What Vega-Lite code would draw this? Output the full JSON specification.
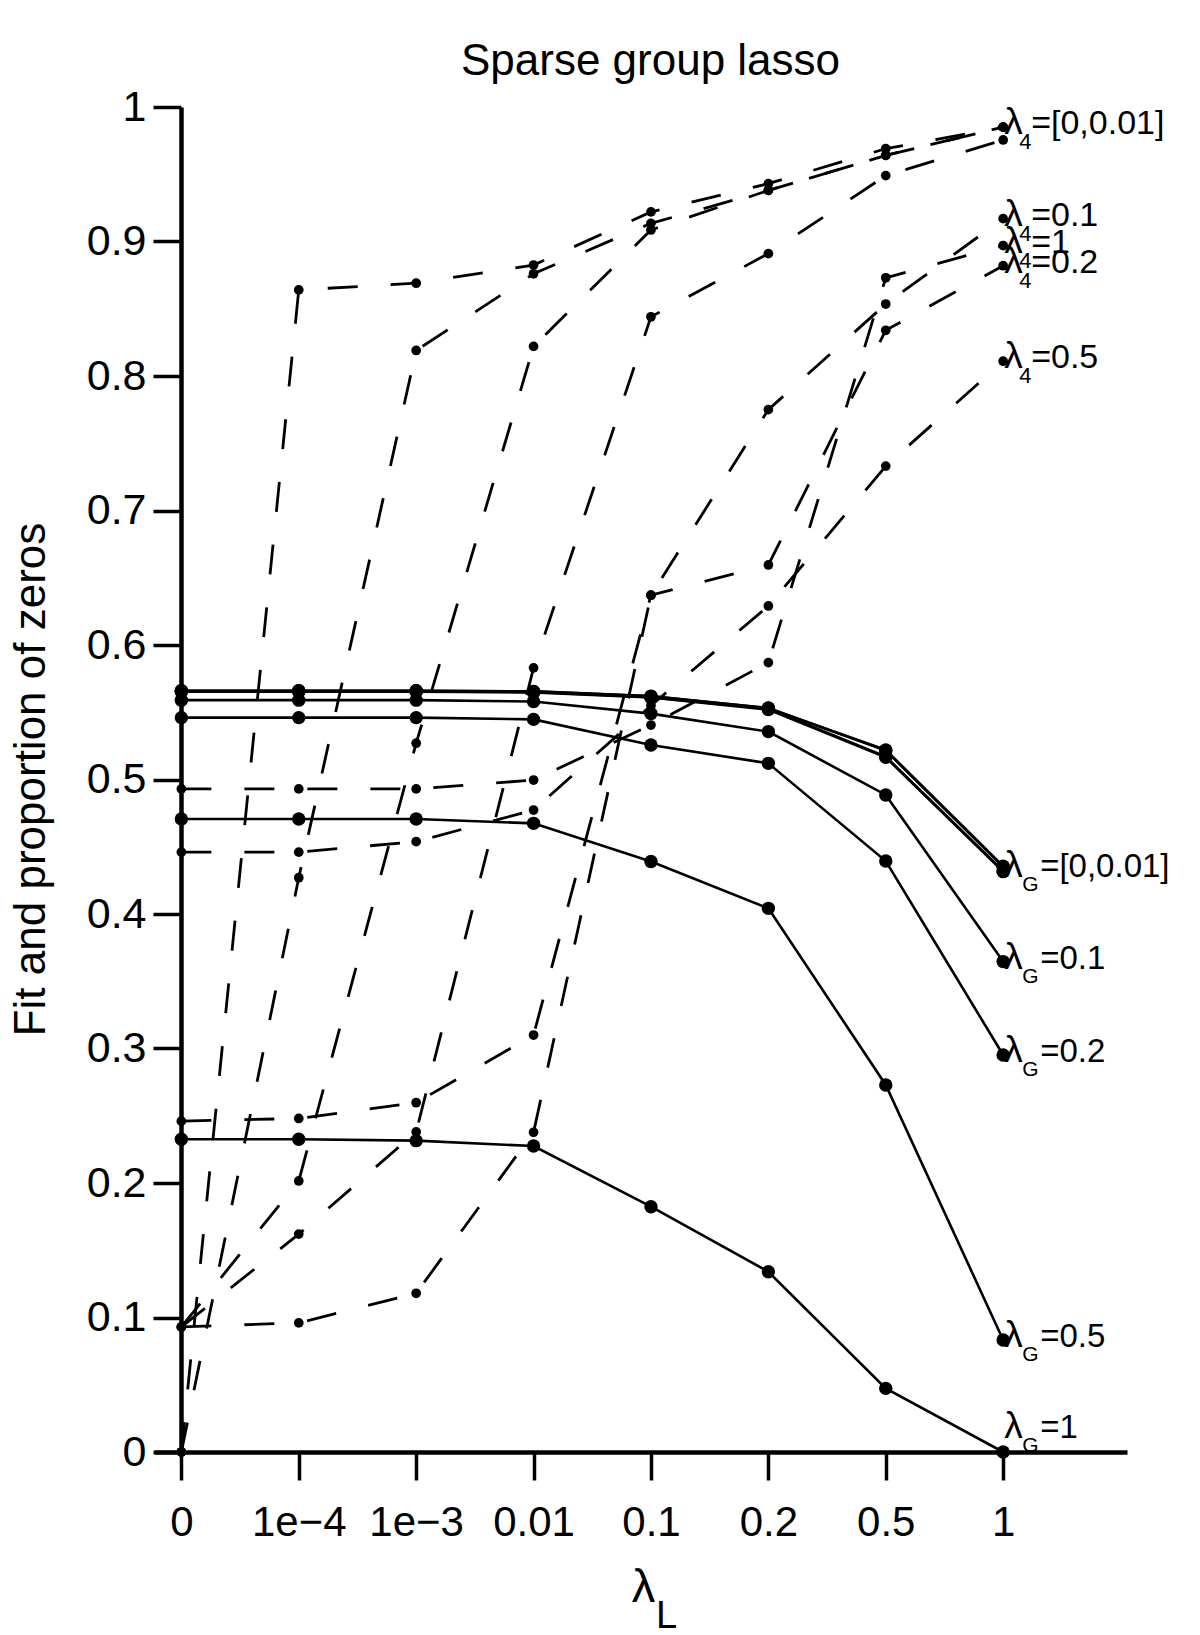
{
  "$schema": "https://vega.github.io/schema/vega-lite/v6.json",
  "width": 973,
  "height": 1345,
  "autosize": {"type": "none"},
  "padding": {"left": 154, "top": 107, "right": 73, "bottom": 183},
  "background": "white",
  "title": {"text": "Sparse group lasso", "fontSize": 44, "fontWeight": "normal", "font": "Liberation Sans", "color": "black", "anchor": "middle", "frame": "group", "dx": 10, "dy": 47, "baseline": "alphabetic", "offset": 14},
  "config": {
    "view": {"stroke": null},
    "font": "Liberation Sans",
    "text": {"font": "Liberation Sans", "color": "black"}
  },
  "datasets": {
    "fit": [
      {"series": "G=0", "lamL": "0", "v": 0.566}, {"series": "G=0", "lamL": "1e-4", "v": 0.566}, {"series": "G=0", "lamL": "1e-3", "v": 0.566}, {"series": "G=0", "lamL": "0.01", "v": 0.5655}, {"series": "G=0", "lamL": "0.1", "v": 0.562}, {"series": "G=0", "lamL": "0.2", "v": 0.553}, {"series": "G=0", "lamL": "0.5", "v": 0.522}, {"series": "G=0", "lamL": "1", "v": 0.4355},
      {"series": "G=1e-4", "lamL": "0", "v": 0.566}, {"series": "G=1e-4", "lamL": "1e-4", "v": 0.566}, {"series": "G=1e-4", "lamL": "1e-3", "v": 0.566}, {"series": "G=1e-4", "lamL": "0.01", "v": 0.5655}, {"series": "G=1e-4", "lamL": "0.1", "v": 0.5618}, {"series": "G=1e-4", "lamL": "0.2", "v": 0.5532}, {"series": "G=1e-4", "lamL": "0.5", "v": 0.5215}, {"series": "G=1e-4", "lamL": "1", "v": 0.435},
      {"series": "G=1e-3", "lamL": "0", "v": 0.5655}, {"series": "G=1e-3", "lamL": "1e-4", "v": 0.5655}, {"series": "G=1e-3", "lamL": "1e-3", "v": 0.5655}, {"series": "G=1e-3", "lamL": "0.01", "v": 0.565}, {"series": "G=1e-3", "lamL": "0.1", "v": 0.5612}, {"series": "G=1e-3", "lamL": "0.2", "v": 0.5525}, {"series": "G=1e-3", "lamL": "0.5", "v": 0.517}, {"series": "G=1e-3", "lamL": "1", "v": 0.432},
      {"series": "G=0.01", "lamL": "0", "v": 0.5652}, {"series": "G=0.01", "lamL": "1e-4", "v": 0.5652}, {"series": "G=0.01", "lamL": "1e-3", "v": 0.5652}, {"series": "G=0.01", "lamL": "0.01", "v": 0.5648}, {"series": "G=0.01", "lamL": "0.1", "v": 0.561}, {"series": "G=0.01", "lamL": "0.2", "v": 0.552}, {"series": "G=0.01", "lamL": "0.5", "v": 0.5165}, {"series": "G=0.01", "lamL": "1", "v": 0.4315},
      {"series": "G=0.1", "lamL": "0", "v": 0.559}, {"series": "G=0.1", "lamL": "1e-4", "v": 0.559}, {"series": "G=0.1", "lamL": "1e-3", "v": 0.559}, {"series": "G=0.1", "lamL": "0.01", "v": 0.558}, {"series": "G=0.1", "lamL": "0.1", "v": 0.549}, {"series": "G=0.1", "lamL": "0.2", "v": 0.5356}, {"series": "G=0.1", "lamL": "0.5", "v": 0.4885}, {"series": "G=0.1", "lamL": "1", "v": 0.3646},
      {"series": "G=0.2", "lamL": "0", "v": 0.546}, {"series": "G=0.2", "lamL": "1e-4", "v": 0.546}, {"series": "G=0.2", "lamL": "1e-3", "v": 0.546}, {"series": "G=0.2", "lamL": "0.01", "v": 0.5447}, {"series": "G=0.2", "lamL": "0.1", "v": 0.5257}, {"series": "G=0.2", "lamL": "0.2", "v": 0.512}, {"series": "G=0.2", "lamL": "0.5", "v": 0.4394}, {"series": "G=0.2", "lamL": "1", "v": 0.2952},
      {"series": "G=0.5", "lamL": "0", "v": 0.4706}, {"series": "G=0.5", "lamL": "1e-4", "v": 0.4706}, {"series": "G=0.5", "lamL": "1e-3", "v": 0.4706}, {"series": "G=0.5", "lamL": "0.01", "v": 0.4674}, {"series": "G=0.5", "lamL": "0.1", "v": 0.439}, {"series": "G=0.5", "lamL": "0.2", "v": 0.4042}, {"series": "G=0.5", "lamL": "0.5", "v": 0.2729}, {"series": "G=0.5", "lamL": "1", "v": 0.0833},
      {"series": "G=1", "lamL": "0", "v": 0.2325}, {"series": "G=1", "lamL": "1e-4", "v": 0.2325}, {"series": "G=1", "lamL": "1e-3", "v": 0.2315}, {"series": "G=1", "lamL": "0.01", "v": 0.2275}, {"series": "G=1", "lamL": "0.1", "v": 0.1824}, {"series": "G=1", "lamL": "0.2", "v": 0.134}, {"series": "G=1", "lamL": "0.5", "v": 0.0473}, {"series": "G=1", "lamL": "1", "v": 0}
    ],
    "zeros": [
      {"series": "4=0", "lamL": "0", "v": 0}, {"series": "4=0", "lamL": "1e-4", "v": 0.864}, {"series": "4=0", "lamL": "1e-3", "v": 0.869}, {"series": "4=0", "lamL": "0.01", "v": 0.8825}, {"series": "4=0", "lamL": "0.1", "v": 0.922}, {"series": "4=0", "lamL": "0.2", "v": 0.943}, {"series": "4=0", "lamL": "0.5", "v": 0.969}, {"series": "4=0", "lamL": "1", "v": 0.985},
      {"series": "4=1e-4", "lamL": "0", "v": 0}, {"series": "4=1e-4", "lamL": "1e-4", "v": 0.427}, {"series": "4=1e-4", "lamL": "1e-3", "v": 0.819}, {"series": "4=1e-4", "lamL": "0.01", "v": 0.876}, {"series": "4=1e-4", "lamL": "0.1", "v": 0.9135}, {"series": "4=1e-4", "lamL": "0.2", "v": 0.938}, {"series": "4=1e-4", "lamL": "0.5", "v": 0.964}, {"series": "4=1e-4", "lamL": "1", "v": 0.985},
      {"series": "4=1e-3", "lamL": "0", "v": 0.093}, {"series": "4=1e-3", "lamL": "1e-4", "v": 0.2015}, {"series": "4=1e-3", "lamL": "1e-3", "v": 0.527}, {"series": "4=1e-3", "lamL": "0.01", "v": 0.822}, {"series": "4=1e-3", "lamL": "0.1", "v": 0.9086}, {"series": "4=1e-3", "lamL": "0.2", "v": 0.938}, {"series": "4=1e-3", "lamL": "0.5", "v": 0.964}, {"series": "4=1e-3", "lamL": "1", "v": 0.985},
      {"series": "4=0.01", "lamL": "0", "v": 0.093}, {"series": "4=0.01", "lamL": "1e-4", "v": 0.162}, {"series": "4=0.01", "lamL": "1e-3", "v": 0.238}, {"series": "4=0.01", "lamL": "0.01", "v": 0.583}, {"series": "4=0.01", "lamL": "0.1", "v": 0.844}, {"series": "4=0.01", "lamL": "0.2", "v": 0.891}, {"series": "4=0.01", "lamL": "0.5", "v": 0.949}, {"series": "4=0.01", "lamL": "1", "v": 0.9755},
      {"series": "4=0.1", "lamL": "0", "v": 0.093}, {"series": "4=0.1", "lamL": "1e-4", "v": 0.096}, {"series": "4=0.1", "lamL": "1e-3", "v": 0.118}, {"series": "4=0.1", "lamL": "0.01", "v": 0.2377}, {"series": "4=0.1", "lamL": "0.1", "v": 0.637}, {"series": "4=0.1", "lamL": "0.2", "v": 0.775}, {"series": "4=0.1", "lamL": "0.5", "v": 0.8535}, {"series": "4=0.1", "lamL": "1", "v": 0.917},
      {"series": "4=0.2", "lamL": "0", "v": 0.246}, {"series": "4=0.2", "lamL": "1e-4", "v": 0.248}, {"series": "4=0.2", "lamL": "1e-3", "v": 0.2597}, {"series": "4=0.2", "lamL": "0.01", "v": 0.31}, {"series": "4=0.2", "lamL": "0.1", "v": 0.637}, {"series": "4=0.2", "lamL": "0.2", "v": 0.6595}, {"series": "4=0.2", "lamL": "0.5", "v": 0.834}, {"series": "4=0.2", "lamL": "1", "v": 0.882},
      {"series": "4=0.5", "lamL": "0", "v": 0.446}, {"series": "4=0.5", "lamL": "1e-4", "v": 0.446}, {"series": "4=0.5", "lamL": "1e-3", "v": 0.4538}, {"series": "4=0.5", "lamL": "0.01", "v": 0.4773}, {"series": "4=0.5", "lamL": "0.1", "v": 0.555}, {"series": "4=0.5", "lamL": "0.2", "v": 0.629}, {"series": "4=0.5", "lamL": "0.5", "v": 0.733}, {"series": "4=0.5", "lamL": "1", "v": 0.811},
      {"series": "4=1", "lamL": "0", "v": 0.493}, {"series": "4=1", "lamL": "1e-4", "v": 0.493}, {"series": "4=1", "lamL": "1e-3", "v": 0.493}, {"series": "4=1", "lamL": "0.01", "v": 0.4996}, {"series": "4=1", "lamL": "0.1", "v": 0.5405}, {"series": "4=1", "lamL": "0.2", "v": 0.5869}, {"series": "4=1", "lamL": "0.5", "v": 0.873}, {"series": "4=1", "lamL": "1", "v": 0.897}
    ],
    "labels": [
      {"kind": "zeros", "lamL": "1", "v": 0.985, "sub": "4", "rest": "=[0,0.01]"},
      {"kind": "zeros", "lamL": "1", "v": 0.917, "sub": "4", "rest": "=0.1"},
      {"kind": "zeros", "lamL": "1", "v": 0.897, "sub": "4", "rest": "=1"},
      {"kind": "zeros", "lamL": "1", "v": 0.882, "sub": "4", "rest": "=0.2"},
      {"kind": "zeros", "lamL": "1", "v": 0.811, "sub": "4", "rest": "=0.5"},
      {"kind": "fit", "lamL": "1", "v": 0.433, "sub": "G", "rest": "=[0,0.01]"},
      {"kind": "fit", "lamL": "1", "v": 0.3646, "sub": "G", "rest": "=0.1"},
      {"kind": "fit", "lamL": "1", "v": 0.2952, "sub": "G", "rest": "=0.2"},
      {"kind": "fit", "lamL": "1", "v": 0.0833, "sub": "G", "rest": "=0.5"},
      {"kind": "fit", "lamL": "1", "v": 0, "sub": "G", "rest": "=1"}
    ],
    "axissub": [
      {"lamL": "0.1", "v": 0, "sub": "L"}
    ]
  },
  "encoding": {
    "x": {
      "field": "lamL", "type": "ordinal",
      "scale": {"type": "point", "domain": ["0", "1e-4", "1e-3", "0.01", "0.1", "0.2", "0.5", "1"], "padding": 0.644, "align": 0.181},
      "axis": {
        "title": "λ", "titleFont": "Liberation Sans", "titleFontSize": 47, "titleFontWeight": "normal", "titleColor": "black",
        "titleX": 489, "titleY": 149, "titleBaseline": "alphabetic", "titleAlign": "center", "titleAnchor": null,
        "labelAngle": 0, "labelFont": "Liberation Sans", "labelFontSize": 42, "labelColor": "black", "labelPadding": 22, "labelOverlap": false,
        "labelExpr": "replace(datum.label, '-', '−')",
        "tickSize": 28, "tickWidth": 3.5, "tickColor": "black", "domainColor": "black", "domainWidth": 4.5, "grid": false
      }
    },
    "y": {
      "field": "v", "type": "quantitative",
      "scale": {"domain": [0, 1], "nice": false, "zero": true},
      "axis": {
        "title": "Fit and proportion of zeros", "titleFont": "Liberation Sans", "titleFontSize": 44, "titleFontWeight": "normal", "titleColor": "black",
        "titleX": -150, "titleY": 672, "titleAngle": -90, "titleBaseline": "middle", "titleAlign": "center",
        "values": [0, 0.1, 0.2, 0.3, 0.4, 0.5, 0.6, 0.7, 0.8, 0.9, 1], "format": "~g",
        "labelFont": "Liberation Sans", "labelFontSize": 43, "labelColor": "black", "labelPadding": 7,
        "tickSize": 28, "tickWidth": 3.5, "tickColor": "black", "domainColor": "black", "domainWidth": 4.5, "grid": false,
        "offset": -27
      }
    }
  },
  "layer": [
    {"data": {"name": "fit"}, "mark": {"type": "line", "color": "black", "strokeWidth": 2.6}, "encoding": {"detail": {"field": "series"}}},
    {"data": {"name": "fit"}, "mark": {"type": "circle", "color": "black", "opacity": 1, "size": 180}, "encoding": {"detail": {"field": "series"}}},
    {"data": {"name": "zeros"}, "mark": {"type": "line", "color": "black", "strokeWidth": 2.8, "strokeDash": [30, 33]}, "encoding": {"detail": {"field": "series"}}},
    {"data": {"name": "zeros"}, "mark": {"type": "circle", "color": "black", "opacity": 1, "size": 95}, "encoding": {"detail": {"field": "series"}}},
    {"data": {"name": "labels"}, "transform": [{"filter": "!(datum.kind == 'fit' && datum.rest == '=1')"}],
     "mark": {"type": "text", "text": "λ", "align": "left", "baseline": "alphabetic", "dx": 1, "dy": 7, "fontSize": 37}},
    {"data": {"name": "labels"}, "transform": [{"filter": "datum.kind == 'zeros'"}],
     "mark": {"type": "text", "align": "left", "baseline": "alphabetic", "dx": 16, "dy": 22, "fontSize": 22}, "encoding": {"text": {"field": "sub"}}},
    {"data": {"name": "labels"}, "transform": [{"filter": "datum.kind == 'fit' && datum.rest != '=1'"}],
     "mark": {"type": "text", "align": "left", "baseline": "alphabetic", "dx": 19, "dy": 21, "fontSize": 21}, "encoding": {"text": {"field": "sub"}}},
    {"data": {"name": "labels"}, "transform": [{"filter": "datum.kind == 'zeros'"}],
     "mark": {"type": "text", "align": "left", "baseline": "alphabetic", "dx": 28, "dy": 7, "fontSize": 34}, "encoding": {"text": {"field": "rest"}}},
    {"data": {"name": "labels"}, "transform": [{"filter": "datum.kind == 'fit' && datum.rest != '=1'"}],
     "mark": {"type": "text", "align": "left", "baseline": "alphabetic", "dx": 37, "dy": 7, "fontSize": 33}, "encoding": {"text": {"field": "rest"}}},
    {"data": {"name": "labels"}, "transform": [{"filter": "datum.kind == 'fit' && datum.rest == '=1'"}],
     "mark": {"type": "text", "text": "λ", "align": "left", "baseline": "alphabetic", "dx": 1, "dy": -14, "fontSize": 37}},
    {"data": {"name": "labels"}, "transform": [{"filter": "datum.kind == 'fit' && datum.rest == '=1'"}],
     "mark": {"type": "text", "align": "left", "baseline": "alphabetic", "dx": 19, "dy": 0, "fontSize": 21}, "encoding": {"text": {"field": "sub"}}},
    {"data": {"name": "labels"}, "transform": [{"filter": "datum.kind == 'fit' && datum.rest == '=1'"}],
     "mark": {"type": "text", "align": "left", "baseline": "alphabetic", "dx": 37, "dy": -14, "fontSize": 33}, "encoding": {"text": {"field": "rest"}}},
    {"data": {"name": "axissub"},
     "mark": {"type": "text", "align": "left", "baseline": "alphabetic", "dx": 5, "dy": 176, "fontSize": 38, "clip": false},
     "encoding": {"text": {"field": "sub"}}}
  ]
}
